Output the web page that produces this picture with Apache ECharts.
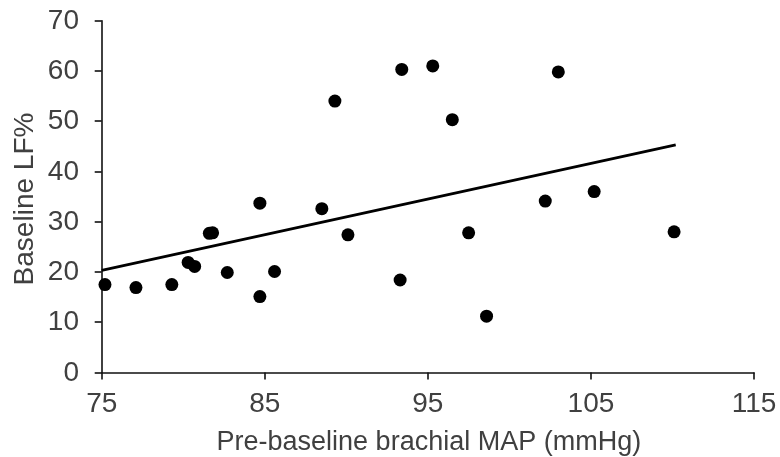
<!DOCTYPE html>
<html>
<head>
<meta charset="utf-8">
<script src="https://cdn.jsdelivr.net/npm/echarts@6/dist/echarts.min.js"></script>
<style>
html,body{margin:0;padding:0;background:#fff;}
#chart{width:780px;height:457px;}
</style>
</head>
<body>
<div id="chart"></div>
<script>
// Data
var mapValues = [75.2, 77.1, 79.3, 80.3, 80.7, 81.6, 81.8, 82.7, 84.7, 84.7, 85.6, 88.5, 90.1,
                 89.3, 93.4, 95.3, 96.5, 93.3, 97.5, 98.6, 103.0, 102.2, 105.2, 110.1];
var lfValues  = [17.5, 16.9, 17.5, 21.9, 21.1, 27.7, 27.8, 19.9, 33.7, 15.1, 20.1, 32.6, 27.4,
                 54.0, 60.3, 61.0, 50.3, 18.4, 27.8, 11.2, 59.8, 34.1, 36.0, 28.0];
var trendX = [75, 110.2];
var trendY = [20.3, 45.3];
var xTicks = [75, 85, 95, 105, 115];
var yTicks = [0, 10, 20, 30, 40, 50, 60, 70];
var xTitle = 'Pre-baseline brachial MAP (mmHg)';
var yTitle = 'Baseline LF%';

var scatterData = mapValues.map(function (x, i) { return [x, lfValues[i]]; });
var trendData = trendX.map(function (x, i) { return [x, trendY[i]]; });

var textColor = '#404040';
var fontFamily = '"Liberation Sans", Arial, sans-serif';
var axisColor = '#111';

var chart = echarts.init(document.getElementById('chart'), null, {renderer: 'canvas'});
chart.setOption({
  animation: false,
  backgroundColor: '#fff',
  grid: {left: 101.7, right: 26, top: 20.7, bottom: 84.5, containLabel: false},
  xAxis: {
    type: 'value',
    min: xTicks[0], max: xTicks[xTicks.length - 1], interval: 10,
    axisLine: {show: true, onZero: false, lineStyle: {color: axisColor, width: 1.6}},
    axisTick: {show: true, inside: false, length: 7, lineStyle: {color: axisColor, width: 1.6}},
    axisLabel: {show: false},
    splitLine: {show: false}
  },
  yAxis: {
    type: 'value',
    min: yTicks[0], max: yTicks[yTicks.length - 1], interval: 10,
    axisLine: {show: true, onZero: false, lineStyle: {color: axisColor, width: 1.6}},
    axisTick: {show: true, inside: false, length: 7, lineStyle: {color: axisColor, width: 1.6}},
    axisLabel: {show: false},
    splitLine: {show: false}
  },
  series: [
    {
      type: 'line',
      data: trendData,
      symbol: 'none',
      lineStyle: {color: '#000', width: 2.8},
      z: 2
    },
    {
      type: 'scatter',
      data: scatterData,
      symbol: 'circle',
      symbolSize: 13,
      itemStyle: {color: '#000', opacity: 1},
      z: 3
    }
  ]
});

// Tick labels and titles placed through the library's own axis scales.
var graphics = [];
xTicks.forEach(function (t) {
  var px = chart.convertToPixel({xAxisIndex: 0}, t);
  graphics.push({
    type: 'text', x: px, y: 404,
    style: {text: String(t), fill: textColor, fontSize: 28, fontFamily: fontFamily,
            align: 'center', verticalAlign: 'middle'}
  });
});
yTicks.forEach(function (t) {
  var py = chart.convertToPixel({yAxisIndex: 0}, t);
  graphics.push({
    type: 'text', x: 79, y: py + 0.5,
    style: {text: String(t), fill: textColor, fontSize: 28, fontFamily: fontFamily,
            align: 'right', verticalAlign: 'middle'}
  });
});
var xMid = (chart.convertToPixel({xAxisIndex: 0}, xTicks[0]) +
            chart.convertToPixel({xAxisIndex: 0}, xTicks[xTicks.length - 1])) / 2;
graphics.push({
  type: 'text', x: xMid + 1, y: 443,
  style: {text: xTitle, fill: textColor, fontSize: 27, fontFamily: fontFamily,
          align: 'center', verticalAlign: 'middle'}
});
graphics.push({
  type: 'text', x: 25, y: 199, rotation: Math.PI / 2,
  style: {text: yTitle, fill: textColor, fontSize: 28, fontFamily: fontFamily,
          align: 'center', verticalAlign: 'middle'}
});
chart.setOption({graphic: graphics});
</script>
</body>
</html>
